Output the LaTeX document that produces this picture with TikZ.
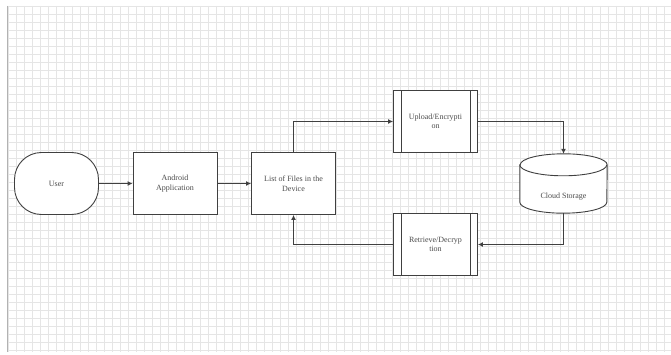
\documentclass[tikz,border=0pt]{standalone}
\usepackage{fontspec}
\setmainfont{Liberation Serif}
\usetikzlibrary{arrows.meta}
\definecolor{gridc}{gray}{0.9}
\definecolor{linec}{gray}{0.25}
\definecolor{textc}{gray}{0.3}
\tikzset{
  box/.style={draw=linec, line width=0.9pt, fill=white, minimum width=84pt, minimum height=62pt, inner sep=1pt, align=center, text=textc, font=\fontsize{8}{9.5}\selectfont},
  term/.style={box, rounded corners=27pt},
  proc/.style={box},
  conn/.style={draw=linec, line width=0.9pt, -{Latex[length=5pt,width=5pt]}},
}
\begin{document}
\begin{tikzpicture}[x=1pt,y=-1pt]
\useasboundingbox (0,0) rectangle (671,355);
\fill[white] (0,0) rectangle (671,355);
% grid
\foreach \gx in {8,16,...,671} \draw[gridc, line width=0.4pt] (\gx,6) -- (\gx,352);
\foreach \gy in {6,14,...,352} \draw[gridc, line width=0.4pt] (7,\gy) -- (671,\gy);
\draw[gray!60, line width=0.8pt] (7,6) -- (7,352);

\node[term] (user) at (56.5,183.5) {User};
\node[box] (android) at (175,183.5) {Android\\Application};
\node[box] (files) at (293.5,183.5) {List of Files in the\\Device};
\node[proc] (upload) at (435.5,121.5) {Upload/Encrypti\\on};
\node[proc] (retrieve) at (435.5,244.5) {Retrieve/Decryp\\tion};
\foreach \n in {upload,retrieve} {
  \draw[linec, line width=0.9pt] ([xshift=8pt]\n.north west) -- ([xshift=8pt]\n.south west);
  \draw[linec, line width=0.9pt] ([xshift=-8pt]\n.north east) -- ([xshift=-8pt]\n.south east);
}
% cloud storage cylinder
\node[minimum width=87pt, minimum height=59pt, inner sep=0pt] (cloud) at (563.5,183.5) {};
\draw[linec, line width=0.9pt, fill=white]
  ([yshift=-11pt]cloud.north west) -- ([yshift=11pt]cloud.south west)
  arc[start angle=180, end angle=360, x radius=43.5pt, y radius=11pt]
  -- ([yshift=-11pt]cloud.north east)
  arc[start angle=0, end angle=180, x radius=43.5pt, y radius=11pt] -- cycle;
\draw[linec, line width=0.9pt] ([yshift=-11pt]cloud.north west)
  arc[start angle=180, end angle=360, x radius=43.5pt, y radius=11pt];
\node[text=textc, font=\fontsize{8}{9.5}\selectfont] (cloudtext) at (563.5,197) {Cloud Storage};

\draw[conn] (user) -- (android);
\draw[conn] (android) -- (files);
\draw[conn] (files.north) |- (upload.west);
\draw[conn] (upload.east) -| (cloud.north);
\draw[conn] (cloud.south) |- (retrieve.east);
\draw[conn] (retrieve.west) -| (files.south);
\end{tikzpicture}
\end{document}
